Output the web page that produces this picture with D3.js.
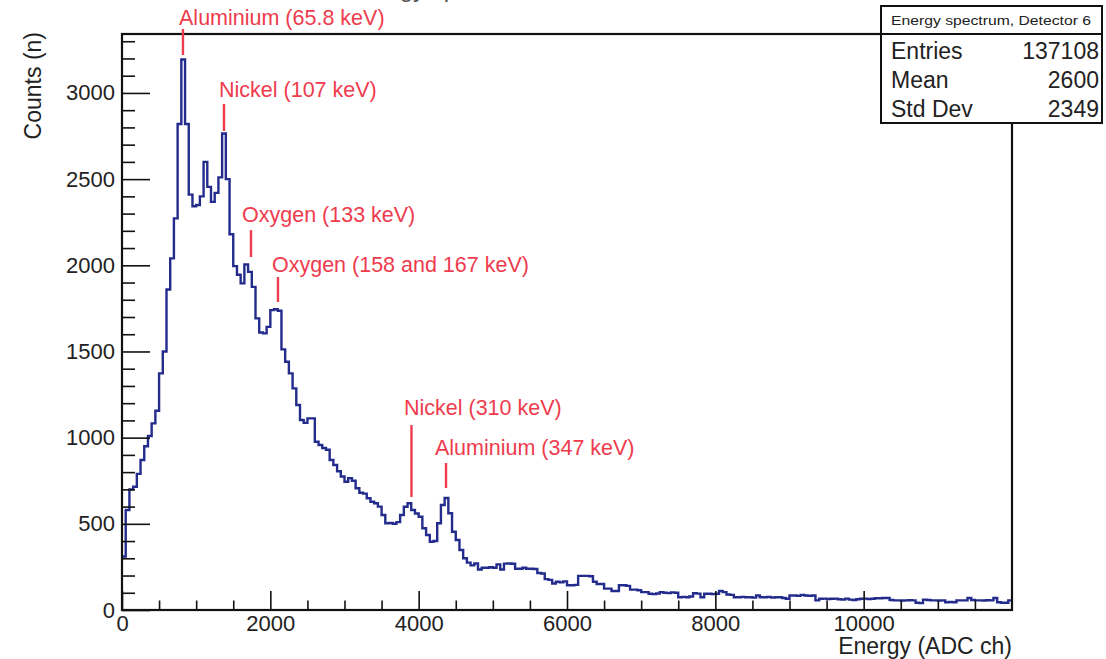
<!DOCTYPE html>
<html>
<head>
<meta charset="utf-8">
<script src="https://cdn.jsdelivr.net/npm/d3@7"></script>
<style>
  body { margin: 0; background: #fff; }
  svg text { font-family: "Liberation Sans", Arial, sans-serif; }
</style>
</head>
<body>
<script>

// histogram: 240 bins of 50 ADC channels, 0 - 12000
var binWidth = 50;
var counts = [
  310, 580, 700, 715, 790, 870, 950, 1010, 1083, 1156,
  1373, 1500, 1860, 2040, 2272, 2820, 3194, 2820, 2410, 2343,
  2350, 2400, 2600, 2455, 2368, 2420, 2510, 2765, 2500, 2180,
  1995, 1945, 1895, 2005, 1962, 1875, 1692, 1610, 1605, 1643,
  1740, 1745, 1736, 1512, 1440, 1373, 1286, 1189, 1102, 1086,
  1112, 1112, 976, 957, 940, 930, 870, 841, 805, 775,
  744, 765, 750, 706, 680, 675, 648, 628, 619, 600,
  551, 503, 505, 500, 510, 551, 599, 619, 580, 560,
  541, 474, 435, 396, 400, 503, 609, 650, 561, 454,
  406, 348, 300, 275, 259, 270, 235, 245, 245, 248,
  245, 265, 235, 269, 270, 268, 239, 239, 245, 239,
  239, 238, 215, 212, 179, 175, 154, 164, 160, 166,
  144, 144, 146, 198, 198, 198, 196, 164, 151, 151,
  124, 124, 110, 110, 144, 144, 140, 118, 118, 115,
  104, 104, 94, 92, 96, 104, 100, 98, 102, 100,
  74, 76, 74, 78, 97, 95, 74, 94, 94, 92,
  94, 110, 104, 90, 88, 74, 74, 76, 74, 74,
  72, 84, 74, 74, 76, 72, 74, 74, 70, 65,
  84, 84, 82, 88, 84, 82, 84, 56, 65, 66,
  64, 65, 66, 62, 60, 66, 60, 58, 62, 65,
  66, 64, 65, 68, 68, 70, 70, 58, 56, 56,
  55, 56, 57, 56, 42, 40, 60, 58, 56, 56,
  55, 56, 45, 46, 45, 56, 56, 56, 70, 58,
  56, 56, 55, 57, 56, 70, 45, 42, 42, 56
];

var xMajor = [0, 2000, 4000, 6000, 8000, 10000];
var xMinor = d3.range(500, 12000, 500).filter(function(v) { return v % 2000 != 0; });
var yMajor = [0, 500, 1000, 1500, 2000, 2500, 3000];
var yMinor = d3.range(100, 3400, 100).filter(function(v) { return v % 500 != 0; });

// peak annotations (channel / counts units)
var annLabels = ["Aluminium (65.8 keV)", "Nickel (107 keV)", "Oxygen (133 keV)",
                 "Oxygen (158 and 167 keV)", "Nickel (310 keV)", "Aluminium (347 keV)"];
var annLineX = [822, 1375, 1739, 2103, 3903, 4369];
var annLineTop = [3371, 2936, 2204, 1932, 1073, 853];
var annLineBottom = [3220, 2779, 2048, 1787, 656, 708];
var annTextX = [769, 1308, 1618, 2022, 3802, 4220];
var annTextY = [3394, 2976, 2251, 1961, 1131, 899];

var histTitle = "Energy spectrum, Detector 6";
var statNames = ["Entries", "Mean", "Std Dev"];
var statValues = ["137108", "2600", "2349"];

var width = 1106, height = 659;
var margin = { top: 34, right: 94, bottom: 49, left: 122 };

var svg = d3.select("body")
  .append("svg")
  .attr("width", width)
  .attr("height", height);

var xScale = d3.scaleLinear()
  .domain([0, 12000])
  .range([margin.left, width - margin.right]);

var yScale = d3.scaleLinear()
  .domain([0, 3342])
  .range([height - margin.bottom, margin.top]);

// title, mostly off the top of the picture
svg.append("text")
  .attr("x", 349)
  .attr("y", -3)
  .style("font-size", "24px")
  .attr("fill", "#555")
  .text(histTitle);

// histogram outline
var pts = counts.map(function(c, i) { return [i * binWidth, c]; });
pts.push([counts.length * binWidth, counts[counts.length - 1]]);

var line = d3.line()
  .x(function(d) { return xScale(d[0]); })
  .y(function(d) { return yScale(d[1]); })
  .curve(d3.curveStepAfter);

svg.append("path")
  .datum(pts)
  .attr("d", line)
  .attr("fill", "none")
  .attr("stroke", "#232c8c")
  .attr("stroke-width", 2.4)
  .attr("stroke-linejoin", "miter");

// axes (ROOT style: ticks inside the frame)
var yBase = height - margin.bottom;

var xAxis = svg.append("g")
  .attr("transform", `translate(0, ${yBase})`)
  .call(d3.axisBottom(xScale).tickValues(xMajor).tickSize(-19).tickSizeOuter(0).tickPadding(5).tickFormat(d3.format("d")));
svg.append("g")
  .attr("transform", `translate(0, ${yBase})`)
  .call(d3.axisBottom(xScale).tickValues(xMinor).tickSize(-9.5).tickSizeOuter(0).tickFormat(""));

var yAxis = svg.append("g")
  .attr("transform", `translate(${margin.left}, 0)`)
  .call(d3.axisLeft(yScale).tickValues(yMajor).tickSize(-28).tickSizeOuter(0).tickPadding(7).tickFormat(d3.format("d")));
svg.append("g")
  .attr("transform", `translate(${margin.left}, 0)`)
  .call(d3.axisLeft(yScale).tickValues(yMinor).tickSize(-13).tickSizeOuter(0).tickFormat(""));

svg.selectAll(".domain").remove();
svg.selectAll(".tick line").attr("stroke", "#111").attr("stroke-width", 1.6);
svg.selectAll(".tick text")
  .attr("fill", "#222")
  .style("font-size", "22px")
  .style("font-family", "Liberation Sans, Arial, sans-serif");

// frame
svg.append("rect")
  .attr("x", margin.left)
  .attr("y", margin.top)
  .attr("width", width - margin.right - margin.left)
  .attr("height", yBase - margin.top)
  .attr("fill", "none")
  .attr("stroke", "#111")
  .attr("stroke-width", 2.2);

// axis titles
svg.append("text")
  .attr("text-anchor", "end")
  .attr("x", width - margin.right)
  .attr("y", 654)
  .attr("fill", "#222")
  .style("font-size", "23px")
  .text("Energy (ADC ch)");

svg.append("text")
  .attr("text-anchor", "end")
  .attr("transform", "translate(41," + 32 + ")rotate(-90)")
  .attr("fill", "#222")
  .style("font-size", "23px")
  .text("Counts (n)");

// annotations
var red = "#ee3b4d";
annLabels.forEach(function(t, i) {
  svg.append("line")
    .attr("x1", xScale(annLineX[i]))
    .attr("x2", xScale(annLineX[i]))
    .attr("y1", yScale(annLineTop[i]))
    .attr("y2", yScale(annLineBottom[i]))
    .attr("stroke", red)
    .attr("stroke-width", 2.4);
  svg.append("text")
    .attr("x", xScale(annTextX[i]))
    .attr("y", yScale(annTextY[i]))
    .attr("fill", red)
    .style("font-size", "21.5px")
    .text(t);
});

// stats box
var box = svg.append("g");
box.append("rect")
  .attr("x", 881).attr("y", 6)
  .attr("width", 221).attr("height", 117)
  .attr("fill", "#fff")
  .attr("stroke", "#111")
  .attr("stroke-width", 2);
box.append("line")
  .attr("x1", 881).attr("x2", 1102)
  .attr("y1", 34).attr("y2", 34)
  .attr("stroke", "#111")
  .attr("stroke-width", 2);
box.append("text")
  .attr("x", 991).attr("y", 25)
  .attr("text-anchor", "middle")
  .attr("fill", "#222")
  .style("font-size", "12.5px")
  .attr("textLength", 200)
  .attr("lengthAdjust", "spacingAndGlyphs")
  .text(histTitle);

statNames.forEach(function(n, i) {
  box.append("text")
    .attr("x", 891).attr("y", 59 + i * 29)
    .attr("fill", "#222")
    .style("font-size", "23px")
    .text(n);
  box.append("text")
    .attr("x", 1099).attr("y", 59 + i * 29)
    .attr("text-anchor", "end")
    .attr("fill", "#222")
    .style("font-size", "23px")
    .text(statValues[i]);
});

</script>
</body>
</html>
